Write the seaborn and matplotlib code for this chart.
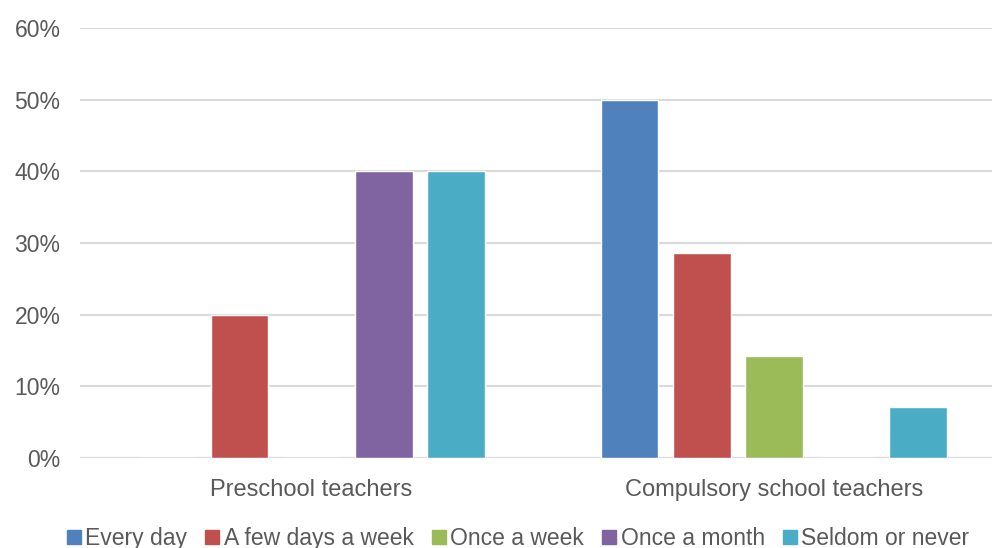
import pandas as pd
import numpy as np
import seaborn as sns
import matplotlib.pyplot as plt
from matplotlib.lines import Line2D

# --- data ---
groups = ['Preschool teachers', 'Compulsory school teachers']
series = ['Every day', 'A few days a week', 'Once a week', 'Once a month', 'Seldom or never']
preschool = [0, 20, 0, 40, 40]
compulsory = [50, 28.6, 14.3, 0, 7.1]
colors = ['#4F81BD', '#C0504D', '#9BBB59', '#8064A2', '#4BACC6']

rows = []
for g, vals in zip(groups, [preschool, compulsory]):
    for s, v in zip(series, vals):
        rows.append({'group': g, 'freq': s, 'pct': v})
df = pd.DataFrame(rows)

sns.set_theme(style="white")
plt.rcParams['font.family'] = ['Liberation Sans', 'DejaVu Sans']
text_col = '#595959'

fig = plt.figure(figsize=(9.92, 5.48), dpi=100)
ax = fig.add_axes([80 / 992, 90 / 548, 912 / 992, 430 / 548])

sns.barplot(data=df, x='group', y='pct', hue='freq', hue_order=series,
            palette=colors, width=0.78, gap=0.2, ax=ax, legend=False,
            saturation=1, errorbar=None)

ax.set_ylim(0, 60)
ax.set_xlim(-0.501, 1.472)
ax.set_yticks(np.arange(0, 61, 10))
ax.set_yticklabels([f'{v}%' for v in range(0, 61, 10)])
ax.yaxis.grid(True, color='#d9d9d9', linewidth=1.5)
ax.set_axisbelow(True)
for sp in ax.spines.values():
    sp.set_visible(False)
ax.axhline(0, color='#d9d9d9', linewidth=1.5, zorder=0)
ax.set_xlabel('')
ax.set_ylabel('')
ax.tick_params(axis='y', length=0, labelsize=16.5, colors=text_col, pad=14)
ax.tick_params(axis='x', length=0, labelsize=17, colors=text_col, pad=15)

handles = [Line2D([], [], marker='s', linestyle='', color=c, markersize=10) for c in colors]
fig.legend(handles, series, loc='center', bbox_to_anchor=(0.52, 0.018), ncol=5,
           frameon=False, fontsize=16.5, labelcolor=text_col, handletextpad=0.0,
           columnspacing=0.6, handlelength=1.0, borderaxespad=0)

fig.savefig('out.png', dpi=100)
